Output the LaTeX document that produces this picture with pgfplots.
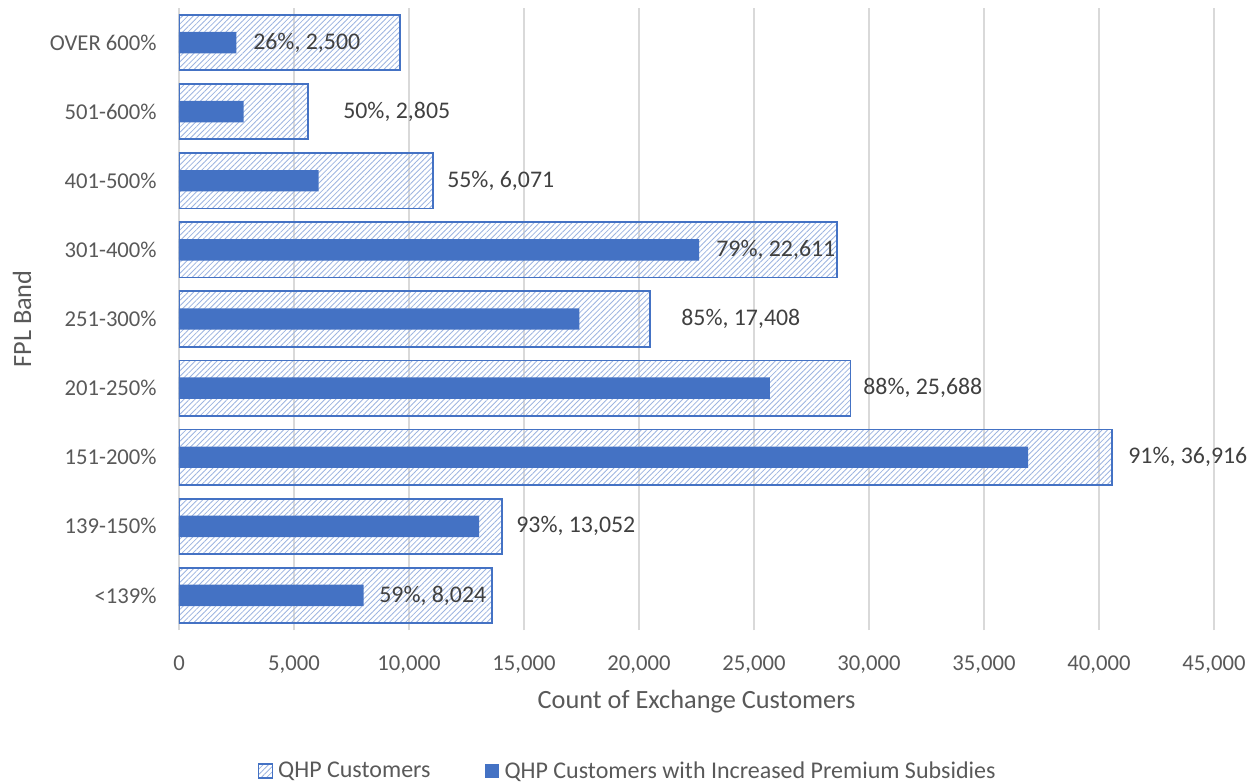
\documentclass[border=0pt]{standalone}
\usepackage{fontspec}
\setmainfont{Carlito}
\usepackage{pgfplots}
\pgfplotsset{compat=1.18}
\usetikzlibrary{patterns.meta}
\definecolor{barblue}{HTML}{4472C4}
\definecolor{hatchblue}{HTML}{9DB4E0}
\definecolor{gridgray}{HTML}{D9D9D9}
\definecolor{ticktext}{HTML}{595959}
\definecolor{labtext}{HTML}{404040}
\begin{document}
\begin{tikzpicture}
\begin{axis}[
  scale only axis, width=621pt, height=373.2pt,
  xmin=0, xmax=45000, ymin=-0.5, ymax=8.5,
  xtick={0,5000,...,45000},
  ytick={0,...,8},
  yticklabels={<139\%,139-150\%,151-200\%,201-250\%,251-300\%,301-400\%,401-500\%,501-600\%,OVER 600\%},
  xmajorgrids, major grid style={gridgray, line width=0.75pt},
  axis line style={draw=none},
  major tick length=0pt,
  scaled x ticks=false,
  tick label style={font=\fontsize{13.6}{16}\selectfont, text=ticktext},
  yticklabel style={inner sep=0pt, anchor=east, xshift=-13.2pt},
  xticklabel style={inner sep=0pt, anchor=north, yshift=-15pt},
  xlabel={Count of Exchange Customers}, ylabel={FPL Band},
  label style={font=\fontsize{15.8}{18}\selectfont, text=ticktext},
  xlabel style={at={(axis description cs:0.5,-0.1158)}, anchor=center},
  ylabel style={at={(axis description cs:-0.1517,0.5)}, anchor=center},
  legend style={at={(axis description cs:0.4324,-0.2267)}, anchor=center, draw=none, fill=none,
    legend columns=2, font=\fontsize{14.4}{17}\selectfont, text=ticktext,
    nodes={inner sep=0pt}},
  /pgf/number format/1000 sep={,},
  /pgf/number format/assume math mode=true,
]
% QHP Customers (total)
\addplot[xbar, bar width=0.8, bar shift=0pt, draw=barblue, line width=1.05pt,
  pattern={Lines[angle=45, distance=2.3pt, line width=0.5pt]}, pattern color=hatchblue,
  legend image code/.code={\draw[draw=barblue, line width=0.8pt, pattern={Lines[angle=45, distance=2.3pt, line width=0.5pt]}, pattern color=hatchblue] (0pt,-4.2pt) rectangle (8.4pt,4.2pt); \path (11.4pt,0pt);}]
  coordinates {(13600,0) (14034,1) (40567,2) (29191,3) (20480,4) (28621,5) (11038,6) (5610,7) (9615,8)};
\addlegendentry{QHP Customers\hspace*{32.4pt}}
% QHP Customers with Increased Premium Subsidies
\addplot[xbar, bar width=0.31, bar shift=0pt, draw=none, fill=barblue,
  legend image code/.code={\fill[barblue] (0pt,-4.2pt) rectangle (8.4pt,4.2pt); \path (12pt,0pt);}]
  coordinates {(8024,0) (13052,1) (36916,2) (25688,3) (17408,4) (22611,5) (6071,6) (2805,7) (2500,8)};
\addlegendentry{QHP Customers with Increased Premium Subsidies}
% data labels
\addplot[forget plot, draw=none, mark=none, nodes near coords, point meta=explicit symbolic,
  nodes near coords style={anchor=west, inner sep=0pt, font=\fontsize{14.3}{17}\selectfont, text=labtext}]
  table[col sep=semicolon, x=x, y=y, meta=lab] {
x;y;lab
8696;0;59\%, 8,024
14652;1;93\%, 13,052
41261;2;91\%, 36,916
29739;3;88\%, 25,688
21826;4;85\%, 17,408
23348;5;79\%, 22,611
11652;6;55\%, 6,071
7130;7;50\%, 2,805
3217;8;26\%, 2,500
};
\end{axis}
\path ([shift={(-107.4pt,-91.2pt)}]current axis.south west) rectangle ([shift={(24.6pt,4.8pt)}]current axis.north east);
\end{tikzpicture}
\end{document}
